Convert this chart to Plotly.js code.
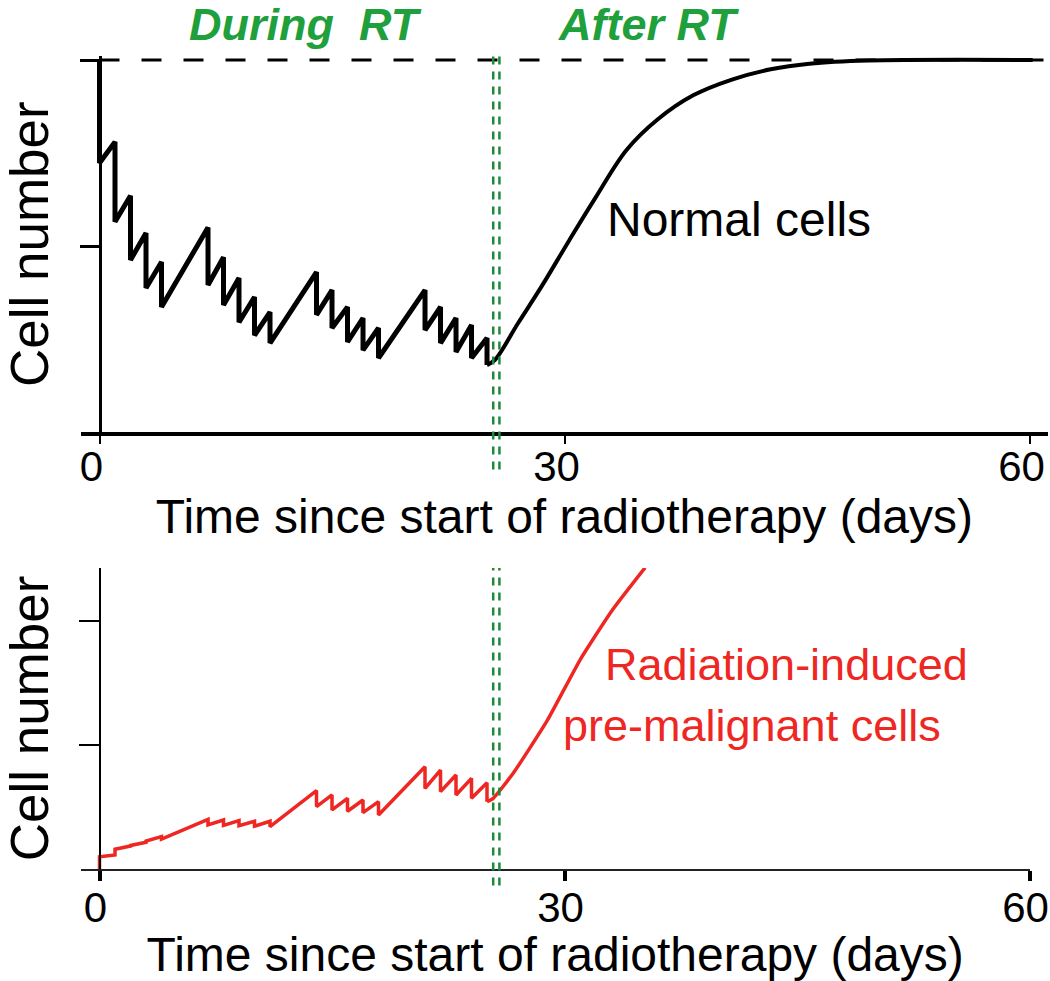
<!DOCTYPE html>
<html>
<head>
<meta charset="utf-8">
<script src="https://cdn.plot.ly/plotly-3.0.1.min.js"></script>
<style>html,body{margin:0;padding:0;background:#fff;}#chart{width:1050px;height:981px;}</style>
</head>
<body>
<div id="chart"></div>
<script>
// ---------- DATA ----------
// Radiotherapy fraction days (Mon-Fri, 5 weeks)
const fractionDays = [0, 1, 2, 3, 4, 7, 8, 9, 10, 11, 14, 15, 16, 17, 18, 21, 22, 23, 24, 25];
const rtEnd = 25.6;               // end of radiotherapy (green marker)
const normalLevel = 2;            // normal (carrying) level, dashed line

// Normal cells: value just before and just after each fraction
const normalBefore = [2.0, 1.56, 1.27, 1.07, 0.914, 1.10, 0.94, 0.828, 0.726, 0.645, 0.86, 0.763, 0.672, 0.613, 0.559, 0.763, 0.672, 0.613, 0.575, 0.505];
const normalAfter  = [1.446, 1.13, 0.925, 0.774, 0.672, 0.79, 0.683, 0.59, 0.52, 0.478, 0.63, 0.559, 0.484, 0.44, 0.398, 0.548, 0.478, 0.43, 0.398, 0.36];
// Normal cells: regrowth after RT
const normalRecDays = [25, 25.5, 27.0, 28.5, 30.3, 32.0, 34.0, 36.0, 38.3, 40.8, 43.3, 45.8, 49.6, 60.2];
const normalRecVals = [0.36, 0.387, 0.585, 0.78, 1.03, 1.26, 1.516, 1.68, 1.81, 1.895, 1.95, 1.98, 1.997, 2.0];

// Radiation-induced pre-malignant cells
const premalBefore = [0.0, 0.113, 0.185, 0.215, 0.262, 0.40, 0.395, 0.39, 0.385, 0.385, 0.632, 0.597, 0.570, 0.556, 0.543, 0.825, 0.798, 0.758, 0.731, 0.696];
const premalAfter  = [0.099, 0.159, 0.19, 0.225, 0.242, 0.355, 0.352, 0.35, 0.345, 0.341, 0.503, 0.476, 0.466, 0.454, 0.435, 0.65, 0.624, 0.597, 0.570, 0.543];
const premalRecDays = [25, 25.4, 26.7, 28.9, 31.0, 33.1, 35.2];
const premalRecVals = [0.543, 0.57, 0.774, 1.2, 1.685, 2.09, 2.43];

const xTickVals = [0, 30, 60];
const xTickText = ['0', '30', '60'];
const yTickVals = [1, 2];

const xTitle = 'Time since start of radiotherapy (days)';
const yTitle = 'Cell number';

// ---------- BUILD ----------
function sawtooth(days, before, after) {
  const x = [], y = [];
  days.forEach((d, i) => { x.push(d, d); y.push(before[i], after[i]); });
  return {x, y};
}
const nSaw = sawtooth(fractionDays, normalBefore, normalAfter);
const pSaw = sawtooth(fractionDays, premalBefore, premalAfter);

const BLACK = '#000000', RED = '#ee2722', GREEN = '#1fa03c', DGREEN = '#1d8a37';
const FONT = 'Liberation Sans, Arial, sans-serif';

const traces = [
  {x: nSaw.x, y: nSaw.y, xaxis: 'x', yaxis: 'y', mode: 'lines', line: {color: BLACK, width: 5}, hoverinfo: 'skip'},
  {x: normalRecDays, y: normalRecVals, xaxis: 'x', yaxis: 'y', mode: 'lines', line: {color: BLACK, width: 4, shape: 'spline', smoothing: 1}, hoverinfo: 'skip'},
  {x: pSaw.x, y: pSaw.y, xaxis: 'x2', yaxis: 'y2', mode: 'lines', line: {color: RED, width: 3.5}, hoverinfo: 'skip'},
  {x: premalRecDays, y: premalRecVals, xaxis: 'x2', yaxis: 'y2', mode: 'lines', line: {color: RED, width: 3.5, shape: 'spline', smoothing: 0.5}, hoverinfo: 'skip'}
];

const W = 1050, H = 981;
const px = v => v / W, py = v => 1 - v / H;

const axFontTick = {family: FONT, size: 42, color: '#000'};
const axFontTitle = {family: FONT, size: 48, color: '#000'};

function greenLines(xref, yref, y0, y1) {
  return [-0.2, 0.2].map(off => ({
    type: 'line', xref: xref, yref: yref, x0: rtEnd + off, x1: rtEnd + off, y0: y0, y1: y1,
    line: {color: DGREEN, width: 2.5, dash: '8px,7px'}, layer: 'above'
  }));
}

const layout = {
  width: W, height: H, autosize: false,
  margin: {l: 0, r: 0, t: 0, b: 0},
  paper_bgcolor: '#fff', plot_bgcolor: 'rgba(0,0,0,0)',
  showlegend: false,
  xaxis: {
    domain: [px(80.9), px(1048)], range: [-1.2, 61.19], anchor: 'y',
    showgrid: false, zeroline: false, showline: true, linewidth: 4, linecolor: BLACK,
    ticks: 'outside', ticklen: 8, tickwidth: 2, tickcolor: BLACK,
    tickvals: xTickVals, ticktext: xTickText, tickfont: axFontTick,
    ticklabeloverflow: 'allow', ticklabelstandoff: -13, ticklabelshift: -8,
    title: {text: xTitle, font: axFontTitle, standoff: 10}, automargin: false
  },
  yaxis: {
    domain: [py(432), py(56.3)], range: [0, 2.02], anchor: 'free', position: px(99.5),
    showgrid: false, zeroline: false, showline: true, linewidth: 3, linecolor: BLACK,
    ticks: 'outside', ticklen: 19, tickwidth: 3, tickcolor: BLACK,
    tickvals: yTickVals, showticklabels: false,
    title: {text: yTitle, font: {family: FONT, size: 53, color: '#000'}, standoff: 34}, automargin: false
  },
  xaxis2: {
    domain: [px(80.9), px(1029.5)], range: [-1.2, 60.0], anchor: 'y2',
    showgrid: false, zeroline: false, showline: true, linewidth: 2, linecolor: '#222',
    ticks: 'outside', ticklen: 10, tickwidth: 4, tickcolor: BLACK,
    tickvals: xTickVals, ticktext: xTickText, tickfont: axFontTick,
    ticklabeloverflow: 'allow', ticklabelstandoff: -9, ticklabelshift: -4,
    title: {text: xTitle, font: axFontTitle, standoff: 12}, automargin: false
  },
  yaxis2: {
    domain: [py(869), py(568)], range: [0, 2.427], anchor: 'free', position: px(99.5),
    showgrid: false, zeroline: false, showline: true, linewidth: 2, linecolor: BLACK,
    ticks: 'outside', ticklen: 20, tickwidth: 2.5, tickcolor: BLACK,
    tickvals: yTickVals, showticklabels: false,
    title: {text: yTitle, font: {family: FONT, size: 53, color: '#000'}, standoff: 34}, automargin: false
  },
  shapes: [
    {type: 'line', xref: 'x', yref: 'y', x0: 0, x1: 61.19, y0: normalLevel, y1: normalLevel,
     line: {color: BLACK, width: 3, dash: '20px,22px'}, layer: 'below'},
    ...greenLines('x', 'y domain', -0.1, 1.01),
    ...greenLines('x2', 'y2 domain', -0.055, 1.0)
  ],
  annotations: [
    {text: '<b><i>During\u00a0\u00a0RT</i></b>', xref: 'x', yref: 'paper', x: 13.3, y: py(25), xanchor: 'center', yanchor: 'middle',
     showarrow: false, font: {family: FONT, size: 45, color: GREEN}},
    {text: '<b><i>After RT</i></b>', xref: 'x', yref: 'paper', x: 35.4, y: py(25), xanchor: 'center', yanchor: 'middle',
     showarrow: false, font: {family: FONT, size: 45, color: GREEN}},
    {text: 'Normal cells', xref: 'x', yref: 'y', x: 32.6, y: 1.14, xanchor: 'left', yanchor: 'middle',
     showarrow: false, font: {family: FONT, size: 48, color: BLACK}},
    {text: 'Radiation-induced', xref: 'x2', yref: 'y2', x: 32.5, y: 1.645, xanchor: 'left', yanchor: 'middle',
     showarrow: false, font: {family: FONT, size: 45, color: RED}},
    {text: 'pre-malignant cells', xref: 'x2', yref: 'y2', x: 29.8, y: 1.16, xanchor: 'left', yanchor: 'middle',
     showarrow: false, font: {family: FONT, size: 45, color: RED}}
  ]
};

Plotly.newPlot('chart', traces, layout, {displayModeBar: false, staticPlot: true});
</script>
</body>
</html>
